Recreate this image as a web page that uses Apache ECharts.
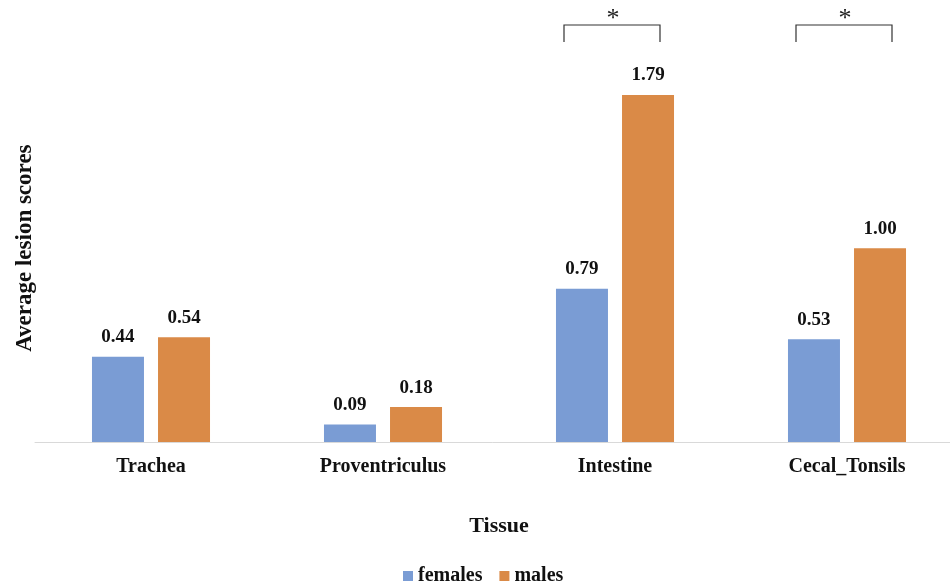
<!DOCTYPE html>
<html><head><meta charset="utf-8">
<script src="https://cdn.jsdelivr.net/npm/echarts@6/dist/echarts.min.js"></script>
<style>html,body{margin:0;padding:0;background:#fff}#c{width:950px;height:583px}</style>
</head><body><div id="c"></div>
<script>
const categories = ['Trachea', 'Proventriculus', 'Intestine', 'Cecal_Tonsils'];
const females = [0.44, 0.09, 0.79, 0.53];
const males = [0.54, 0.18, 1.79, 1.00];
const significant = ['Intestine', 'Cecal_Tonsils'];

const FONT = '"Liberation Serif", "Times New Roman", serif';
const chart = echarts.init(document.getElementById('c'));
const labelStyle = {show: true, position: 'top', distance: 10, fontFamily: FONT, fontWeight: 'bold', fontSize: 19, color: '#111',
  formatter: p => p.value.toFixed(2)};
chart.setOption({
  animation: false,
  grid: {left: 35, width: 928, top: 54.3, height: 387.7, containLabel: false, outerBoundsMode: 'none'},
  legend: {top: 561, left: 398, itemWidth: 10, itemHeight: 10, itemGap: 17, icon: 'rect',
    textStyle: {fontFamily: FONT, fontWeight: 'bold', fontSize: 20, color: '#111'}},
  xAxis: {type: 'category', data: categories, name: 'Tissue', nameLocation: 'middle', nameGap: 73,
    nameTextStyle: {fontFamily: FONT, fontWeight: 'bold', fontSize: 22, color: '#111'},
    axisTick: {show: false}, axisLine: {lineStyle: {color: '#d9d9d9', width: 1}},
    axisLabel: {margin: 15, fontFamily: FONT, fontWeight: 'bold', fontSize: 20, color: '#111'}},
  yAxis: {type: 'value', min: 0, max: 2, show: true, axisLine: {show: false}, axisTick: {show: false},
    axisLabel: {show: false}, splitLine: {show: false},
    name: 'Average lesion scores', nameLocation: 'middle', nameGap: -1.5, nameRotate: 90,
    nameTextStyle: {fontFamily: FONT, fontWeight: 'bold', fontSize: 23, color: '#111'}},
  series: [
    {name: 'females', type: 'bar', data: females, barWidth: 52, barGap: '27%', itemStyle: {color: '#7A9CD4'}, label: labelStyle},
    {name: 'males', type: 'bar', data: males, barWidth: 52, itemStyle: {color: '#DA8A47'}, label: labelStyle}
  ]
});

// significance brackets
const gfx = [];
significant.forEach(cat => {
  const cx = chart.convertToPixel({xAxisIndex: 0}, cat);
  const x1 = cx - 51, x2 = cx + 45, yTop = 25, yBot = 42;
  gfx.push({type: 'polyline', shape: {points: [[x1, yBot], [x1, yTop], [x2, yTop], [x2, yBot]]},
    style: {stroke: '#333', lineWidth: 1.2, fill: null}});
  gfx.push({type: 'text', x: cx - 2, y: 19, style: {text: '*', fontFamily: FONT, fontSize: 26, fontWeight: 'normal',
    fill: '#222', textAlign: 'center', textVerticalAlign: 'middle'}});
});
chart.setOption({graphic: gfx});
</script></body></html>
